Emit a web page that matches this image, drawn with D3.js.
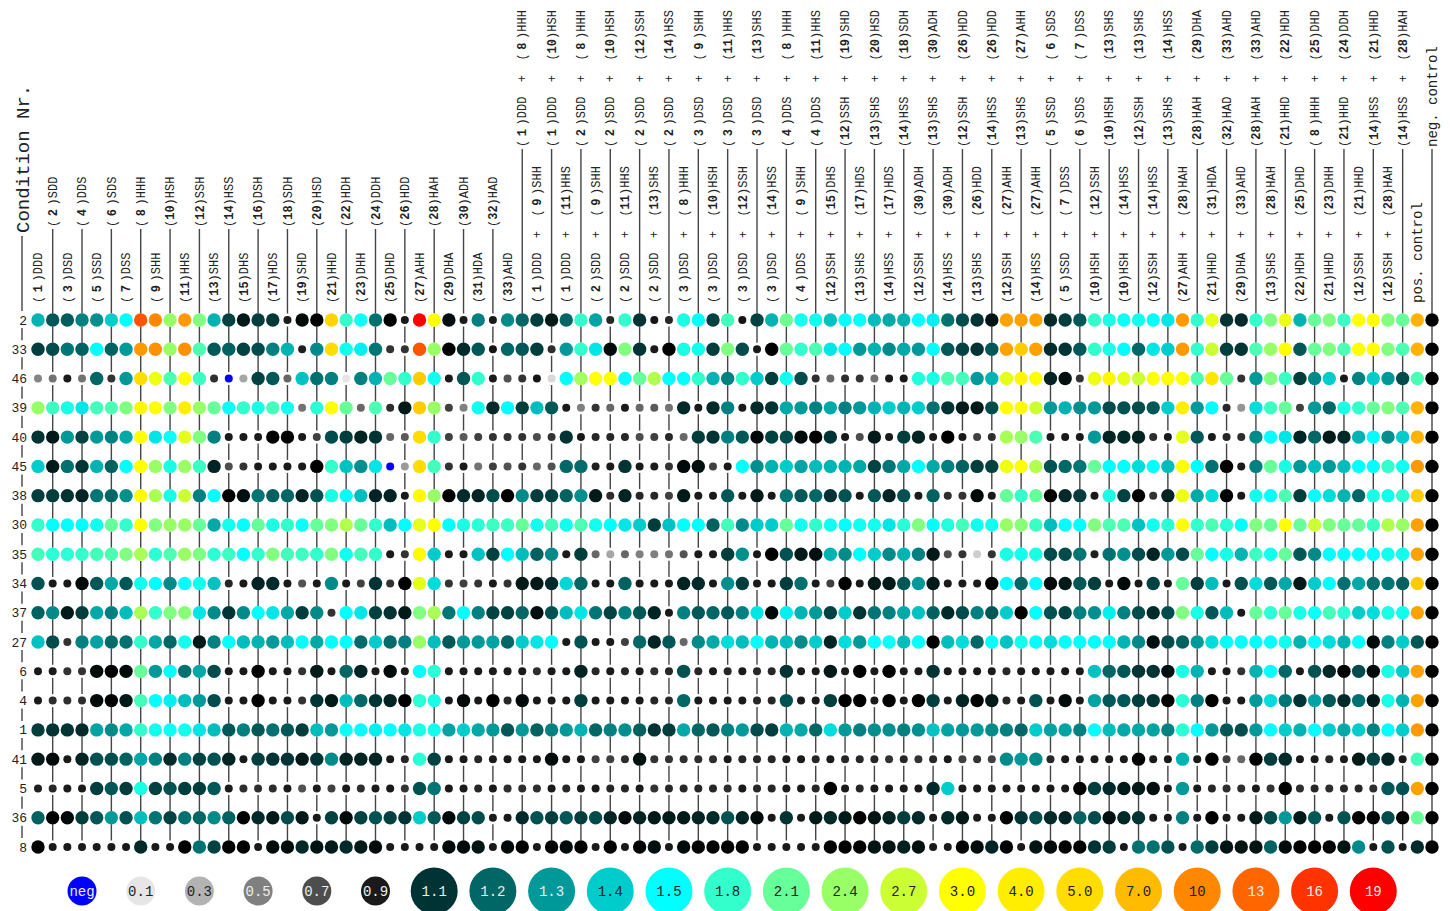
<!DOCTYPE html>
<html>
<head>
<meta charset="utf-8">
<script src="https://cdn.jsdelivr.net/npm/d3@7"></script>
<style>
  body { margin: 0; background: #fff; }
  text { font-family: "Liberation Mono", "DejaVu Sans Mono", monospace; fill: #222; }
</style>
</head>
<body>
<svg id="chart" width="1450" height="911"></svg>
<script>
// Single conditions, numbered 1..33 by position
const singles = ["DDD","SDD","DSD","DDS","SSD","SDS","DSS","HHH","SHH","HSH","HHS","SSH","SHS","HSS",
  "DHS","DSH","HDS","SDH","SHD","HSD","HHD","HDH","DHH","DDH","DHD","HDD","AHH","HAH","DHA","ADH","HDA","HAD","AHD"];

// Paired conditions (numbers refer to singles)
const combos = [[1,8],[1,9],[1,10],[1,11],[2,8],[2,9],[2,10],[2,11],[2,12],[2,13],[2,14],
  [3,8],[3,9],[3,10],[3,11],[3,12],[3,13],[3,14],[4,8],[4,9],[4,11],
  [12,15],[12,19],[13,17],[13,20],[14,17],[14,18],[12,30],[13,30],[14,30],
  [12,26],[13,26],[14,26],[12,27],[13,27],[14,27],[5,6],[5,7],[6,7],
  [10,12],[10,13],[10,14],[12,13],[12,14],[13,14],[27,28],[28,29],[21,31],[32,33],[29,33],[28,33],
  [13,28],[21,22],[22,25],[8,25],[21,23],[21,24],[12,21],[14,21],[12,28],[14,28]];

const controls = ["pos. control", "neg. control"];

// Condition Nr. (row order)
const rowLabels = ["2","33","46","39","40","45","38","30","35","34","37","27","6","4","1","41","5","36","8"];

// Values per condition row, one per column (0 = neg)
const r2 = [1.35,1.17,1.18,1.25,1.28,1.4,1.5,14,10,2.4,9,2.25,1.35,1.13,1.05,1.12,1.11,0.9,1.02,1.0,5.5,1.8,1.55,1.22,1.0,0.9,19,3.0,1.03,0.9,1.25,0.9,1.27,
  1.2,1.12,1.05,1.2,1.8,1.32,0.85,1.8,1.1,0.92,
  0.85,1.65,1.5,1.13,1.9,0.92,1.13,1.35,2.15,1.6,1.6,1.38,1.5,
  1.52,1.37,1.33,1.35,1.5,1.47,1.22,1.15,1.1,1.04,8.5,8.5,8.5,1.08,
  1.12,1.17,1.8,1.65,1.55,1.6,1.5,1.45,9,1.8,2.85,1.1,1.08,
  1.8,2.25,2.9,1.35,2.1,2.25,1.85,3.0,3.0,2.25,2.1,7.5,1.0];
const r33 = [1.12,1.15,1.23,1.19,1.5,1.19,1.3,9,9.5,2.4,9.5,1.95,1.17,1.19,1.13,1.15,1.25,1.35,0.88,1.27,5,1.6,1.47,1.23,0.8,0.8,14,2.4,1.0,1.08,1.17,0.92,1.2,
  1.17,1.12,0.82,1.3,1.8,1.45,1.02,2.25,1.1,0.9,
  1.0,1.65,1.6,1.12,2.25,1.15,0.9,1.0,2.1,1.8,1.95,1.45,1.5,
  1.3,1.35,1.27,1.33,1.3,1.5,1.17,1.13,1.1,1.17,8.5,6,8.5,1.08,
  1.1,1.17,1.8,1.65,1.5,1.2,1.45,1.4,9,1.8,2.7,1.12,1.1,
  1.95,2.4,3.0,1.17,2.1,2.25,1.95,3.0,3.0,2.25,1.95,7.5,1.0];
const r46 = [0.48,0.55,0.9,0.55,1.2,0.8,1.3,5,2.9,1.95,3.0,1.85,0.82,0,0.35,1.13,1.17,0.6,1.38,1.22,1.25,0.1,1.25,1.35,2.1,1.8,6,1.6,0.9,1.17,1.8,0.9,0.68,
  0.8,0.92,0.15,1.5,2.45,3.0,3.0,1.5,2.1,2.55,
  1.5,1.5,1.8,1.35,1.25,1.8,1.4,1.12,1.6,1.15,0.82,0.6,0.82,
  0.8,0.55,0.9,0.9,1.7,1.65,1.95,1.9,1.3,1.35,2.85,3.5,3.0,1.07,
  1.03,0.8,2.9,3.5,2.85,2.7,3.0,3.0,3.0,1.95,4.5,2.1,0.8,
  1.3,2.25,1.85,1.12,1.27,1.4,0.9,1.25,1.4,1.3,1.15,1.95,1.0];
const r39 = [2.4,1.85,1.65,1.45,1.9,1.95,2.25,3.5,3.0,2.25,4,2.4,2.1,1.55,1.8,1.65,1.9,1.6,0.55,1.75,3.0,2.1,0.6,1.95,0.82,1.05,6,2.4,0.75,0.5,1.6,1.08,1.5,
  1.12,1.37,1.17,0.9,0.5,0.8,0.6,0.9,0.6,0.65,
  0.55,1.08,0.9,1.08,1.25,0.9,1.08,1.1,1.33,1.3,1.25,1.33,1.25,
  1.3,1.35,1.4,1.35,1.4,1.22,1.1,1.05,1.05,1.15,3.0,3.2,2.7,1.3,
  1.35,1.28,1.3,1.15,1.16,1.15,1.17,1.4,4,1.3,1.5,0.85,0.42,
  1.43,1.85,2.1,0.75,1.3,1.2,1.65,1.8,2.1,2.25,1.95,7.5,1.0];
const r40 = [1.1,1.05,1.3,1.13,1.3,1.25,1.33,3.0,1.45,1.55,2.85,2.25,1.25,0.9,0.9,0.9,1.0,1.0,0.9,0.75,1.15,1.12,1.07,1.1,0.6,0.65,5,1.8,0.75,0.65,0.75,0.8,0.8,
  0.8,0.7,0.8,1.1,0.9,0.85,0.85,0.85,0.7,0.75,
  0.85,0.6,1.12,1.1,1.25,1.17,1.02,1.13,1.15,1.02,1.0,1.1,0.9,
  0.7,1.05,0.9,1.12,1.07,0.9,1.0,0.9,0.75,0.82,2.5,2.4,1.95,0.9,
  0.9,0.9,1.3,1.07,1.08,1.07,0.82,0.9,2.85,1.17,0.9,0.85,0.82,
  1.27,1.5,1.45,1.07,1.2,1.05,1.08,1.35,1.5,1.28,1.4,7.5,1.0];
const r45 = [1.4,1.05,1.22,1.1,1.35,1.19,1.5,3.0,2.4,1.65,2.4,1.85,1.07,0.7,0.8,0.9,0.9,0.9,0.9,1.0,1.8,1.38,1.28,1.45,0,0.4,5,1.9,0.8,0.9,0.55,0.75,0.68,
  0.8,0.6,0.68,1.2,1.21,0.88,0.9,1.1,0.9,0.9,
  0.8,1.02,1.03,0.75,0.9,1.5,1.28,1.35,1.4,1.32,1.37,1.35,1.35,
  1.33,1.13,1.23,1.33,1.5,1.33,1.25,1.19,1.12,1.13,2.9,3.0,2.55,1.16,
  1.2,1.23,2.1,1.5,1.5,1.43,1.5,1.37,3.0,1.5,1.22,1.0,0.9,
  1.25,2.1,1.65,1.3,1.37,1.3,1.37,1.5,1.5,1.8,1.6,9,1.0];
const r38 = [1.12,1.12,1.1,1.07,1.23,1.2,1.28,3.2,2.5,1.65,2.7,1.25,1.5,1.0,1.03,1.23,1.19,1.2,1.07,1.16,1.65,1.5,1.37,1.07,1.07,0.9,3.3,2.4,1.0,1.08,1.07,1.15,1.0,
  1.27,1.12,1.13,1.19,1.28,1.05,0.82,1.07,0.85,0.85,
  0.75,1.05,0.9,0.9,1.17,0.9,1.05,0.9,1.23,1.17,1.2,1.1,1.16,
  0.9,1.17,1.07,1.16,0.9,1.19,0.82,0.8,1.02,0.9,2.1,1.8,2.1,1.0,
  1.08,1.12,0.9,1.65,1.13,1.0,0.8,1.07,2.9,1.33,1.43,1.0,0.9,
  1.6,1.5,1.95,1.12,1.5,1.43,1.35,1.2,1.65,1.6,1.75,6,1.0];
const r30 = [1.8,1.5,1.5,1.5,1.6,2.1,1.8,3.0,2.25,2.4,2.4,2.1,1.33,1.6,1.5,2.1,1.65,1.8,1.55,2.1,2.25,2.55,2.1,1.8,1.37,1.5,2.85,3.0,1.5,1.65,1.75,1.85,1.85,
  2.1,1.6,1.9,1.6,1.95,1.6,1.5,1.45,1.4,1.12,
  1.38,1.5,1.5,1.19,1.9,1.27,1.4,1.4,2.1,1.6,1.8,1.6,1.5,
  1.6,1.6,1.45,1.75,2.25,1.5,1.7,1.9,1.6,1.6,2.4,2.3,1.85,1.37,
  1.5,1.5,2.25,1.95,1.95,1.38,1.6,1.75,3.0,1.8,1.95,1.75,1.5,
  2.25,2.1,3.0,2.1,2.7,2.25,2.1,2.1,1.85,2.55,2.4,8.5,1.0];
const r35 = [1.9,1.75,1.75,1.8,1.9,1.95,2.25,2.5,1.75,1.95,2.4,2.25,1.75,1.85,1.5,1.8,2.25,1.9,1.85,1.8,2.25,1.6,1.9,1.8,0.9,0.8,3.3,1.4,0.9,0.9,1.38,1.13,1.5,
  1.37,1.19,1.27,0.9,1.12,0.6,0.35,0.6,0.5,0.5,
  0.55,0.68,0.9,0.9,1.12,1.28,0.9,1.0,1.16,1.05,1.03,1.35,1.27,
  1.5,1.4,1.27,1.35,1.25,1.05,0.7,0.8,0.2,0.8,1.65,1.6,1.65,1.15,
  1.15,1.23,0.88,1.22,1.28,1.15,1.07,1.3,1.15,2.1,1.5,1.65,1.35,
  1.85,1.6,2.1,1.17,1.27,1.5,1.5,1.5,1.5,1.6,1.6,8.5,1.0];
const r34 = [1.16,0.9,0.9,1.02,1.17,1.33,1.17,1.6,1.5,1.27,1.5,1.6,1.38,0.85,0.9,1.07,1.08,0.9,0.68,0.9,1.27,0.9,0.75,1.1,0.8,1.0,2.85,1.43,0.8,0.75,0.8,0.9,0.8,
  1.05,1.05,1.08,1.42,1.2,0.9,0.9,1.19,0.9,0.9,
  0.9,1.07,1.08,0.9,1.28,1.12,0.9,0.9,1.12,1.22,0.9,0.75,1.0,
  0.9,1.05,1.05,1.17,1.3,1.05,0.9,0.9,0.9,1.0,1.5,1.2,1.5,1.02,
  1.05,1.17,1.12,0.9,1.02,0.9,1.13,0.9,2.1,1.12,1.37,0.9,1.16,
  1.43,1.17,1.33,1.05,1.4,1.5,1.22,1.33,1.22,1.23,1.19,6,1.0];
const r37 = [1.19,1.27,1.05,1.12,1.33,1.25,1.37,2.5,1.8,2.25,2.3,1.45,1.27,1.1,1.27,1.5,1.45,1.33,1.12,1.27,0.8,1.5,1.45,1.13,1.1,1.05,2.25,2.5,1.23,1.5,1.25,1.13,1.13,
  1.2,1.03,1.16,1.37,1.45,1.23,1.13,1.25,1.17,1.07,
  0.9,1.25,1.17,1.2,1.17,1.25,1.45,1.02,1.47,1.35,1.3,1.13,1.4,
  1.1,1.23,1.25,1.33,1.38,1.19,1.08,1.15,1.25,1.17,1.4,1.0,1.5,1.16,
  1.13,1.25,1.28,1.47,1.25,1.15,1.08,1.15,2.25,1.65,1.17,1.37,0.9,
  2.1,1.75,2.1,1.65,1.55,1.9,1.75,1.4,1.43,1.65,1.6,8.5,1.0];
const r27 = [1.38,1.15,0.8,1.25,1.32,1.21,1.22,1.8,1.33,1.2,1.6,1.05,1.25,1.5,1.37,1.35,1.3,1.37,1.5,1.33,1.5,1.5,1.21,1.4,1.21,1.25,2.4,1.37,1.17,1.3,1.3,1.32,1.2,
  1.4,1.45,1.5,0.9,1.16,0.9,0.9,0.75,1.2,1.07,
  1.17,0.6,1.27,1.33,1.43,1.37,1.5,1.35,1.37,1.27,1.4,1.07,1.43,
  1.3,1.5,1.55,1.37,1.5,1.0,1.37,1.43,1.2,1.5,1.38,1.6,1.5,1.43,
  1.5,1.5,1.5,1.5,1.35,1.27,1.03,1.15,1.19,1.3,1.43,1.5,1.5,
  1.5,1.5,1.6,1.35,1.5,1.43,1.35,1.5,1.02,1.25,1.4,1.17,1.0];
const r6 = [0.9,0.9,0.8,0.8,1.02,1.0,1.02,2.1,1.3,1.5,1.22,1.33,1.15,0.9,0.9,1.0,0.9,0.9,0.8,1.05,0.9,1.2,1.07,0.9,1.02,0.9,1.5,1.75,0.9,0.9,0.9,0.9,0.9,
  0.9,0.82,0.9,0.9,1.07,0.85,0.9,0.85,0.9,0.82,
  0.85,1.16,0.85,0.9,0.85,0.9,0.85,0.85,1.1,0.9,0.9,1.05,0.9,
  1.0,0.9,1.0,0.9,0.9,1.1,0.9,0.9,0.9,0.9,0.85,0.9,0.9,0.9,
  0.9,0.9,1.38,1.2,1.17,1.1,1.1,1.03,1.65,1.35,0.9,0.9,0.8,
  1.35,1.5,1.2,0.9,1.16,1.08,1.0,1.15,1.02,1.65,1.4,8.5,1.0];
const r4 = [0.9,0.82,0.82,0.82,1.02,1.0,1.05,1.9,1.5,1.47,1.37,1.3,1.15,0.9,0.9,1.0,0.9,0.9,0.8,1.1,1.05,1.37,1.2,1.1,1.07,1.0,1.75,1.65,0.9,1.02,0.9,1.0,0.85,
  1.02,0.9,0.9,0.9,1.12,0.9,0.9,0.9,0.9,0.85,
  0.85,1.2,0.9,0.9,0.9,0.9,0.85,0.85,1.16,0.9,0.9,1.12,1.0,
  1.0,0.9,1.0,0.9,1.0,1.12,0.9,1.07,1.0,1.05,0.85,0.9,1.16,0.9,
  1.02,0.9,1.32,1.17,1.17,1.12,1.1,1.0,1.75,1.25,1.0,0.9,0.9,
  1.3,1.43,1.23,1.1,1.32,1.17,1.08,1.22,1.05,1.65,1.35,8.5,1.0];
const r1 = [1.12,1.1,1.1,1.08,1.32,1.27,1.33,1.8,1.6,1.55,1.6,1.45,1.37,1.17,1.25,1.17,1.22,1.17,1.12,1.37,1.3,1.55,1.5,1.47,1.5,1.45,1.65,1.6,1.32,1.4,1.33,1.3,1.17,
  1.3,1.19,1.25,1.3,1.35,1.2,1.25,1.28,1.19,1.1,
  1.12,1.33,1.2,1.17,1.25,1.3,1.15,1.12,1.35,1.33,1.2,1.43,1.3,
  1.25,1.28,1.28,1.25,1.28,1.38,1.32,1.3,1.3,1.27,1.25,1.2,1.4,1.32,
  1.32,1.25,1.5,1.37,1.33,1.33,1.32,1.25,1.75,1.5,1.3,1.17,1.15,
  1.3,1.5,1.4,1.35,1.5,1.4,1.33,1.4,1.25,1.5,1.4,9,1.0];
const r41 = [1.05,1.02,0.9,1.07,1.16,1.15,1.19,1.33,1.25,1.08,1.25,1.13,1.16,1.07,0.9,1.12,1.1,1.1,1.05,1.1,1.27,1.07,1.07,1.07,0.9,0.85,1.75,1.13,0.9,0.9,0.85,0.9,0.9,
  0.9,0.9,1.02,0.9,0.9,0.75,0.75,0.82,1.03,0.8,
  0.8,0.82,0.82,0.82,0.9,0.85,0.85,0.85,0.9,0.9,0.85,0.9,0.85,
  0.85,0.85,0.8,0.85,0.8,0.85,0.9,0.75,0.8,0.75,1.27,1.3,1.27,0.85,
  0.9,0.9,0.9,0.9,0.9,1.0,0.9,0.9,1.35,0.9,1.0,0.75,0.6,
  1.0,1.12,1.08,0.9,0.9,0.85,0.9,1.05,1.13,1.07,0.9,1.9,1.0];
const r5 = [0.88,0.85,0.9,0.9,1.12,1.17,1.12,1.65,1.13,1.16,1.12,1.12,1.17,0.9,0.82,0.82,0.82,0.9,0.68,0.9,0.75,0.9,0.82,0.9,0.9,0.8,1.16,1.23,0.9,0.9,0.85,0.9,0.82,
  0.82,0.82,0.9,0.85,0.9,0.9,0.85,0.85,0.9,0.8,
  0.85,0.85,0.85,0.85,0.82,0.9,0.85,0.85,0.9,0.9,0.85,1.0,0.9,
  0.85,0.9,0.9,0.9,0.9,1.08,1.4,0.9,0.9,0.9,0.9,0.9,0.9,0.9,
  0.9,1.0,1.12,1.08,1.05,1.05,1.03,0.9,1.3,0.9,0.85,0.82,0.82,
  0.9,0.8,1.0,0.82,0.85,0.82,0.85,0.85,0.82,1.17,1.16,8.5,1.0];
const r36 = [1.19,1.0,1.02,1.12,1.17,1.3,1.16,1.37,1.23,1.13,1.22,1.2,1.27,1.19,1.0,1.08,1.05,1.15,1.05,0.9,1.13,1.02,1.13,1.16,1.13,1.1,1.4,1.17,1.02,1.13,1.15,0.9,0.9,
  1.08,1.16,1.12,1.17,1.12,1.15,1.07,1.02,1.07,1.05,
  1.05,1.05,1.07,1.08,1.16,1.07,1.02,0.9,1.1,0.9,1.05,1.08,1.05,
  1.0,1.04,1.07,1.12,1.08,0.9,1.08,1.05,0.9,0.9,1.0,1.1,1.15,1.08,
  1.07,1.19,1.15,1.03,1.08,1.1,0.9,0.9,1.25,0.9,1.0,0.9,0.9,
  1.05,1.15,1.3,1.05,1.17,0.9,1.16,1.0,1.0,1.15,1.0,2.1,1.0];
const r8 = [1.0,0.9,0.9,0.9,0.9,0.9,0.9,1.08,0.9,0.9,1.0,1.22,1.13,1.0,1.0,0.9,1.02,1.02,1.08,1.04,1.05,1.08,1.05,1.02,0.9,0.9,0.9,0.9,1.02,1.02,1.04,0.9,1.02,
  1.0,0.9,1.0,1.02,1.0,0.9,1.0,0.9,1.0,1.03,
  0.9,1.02,1.0,1.0,1.0,1.0,0.9,0.9,0.9,0.9,0.9,1.0,1.0,
  1.0,1.04,1.04,1.06,1.03,0.9,0.9,1.0,1.02,1.07,1.0,0.9,1.04,1.02,
  1.0,1.0,1.1,1.12,0.9,1.22,1.22,1.16,0.9,1.21,1.12,1.04,1.04,
  1.04,1.19,1.02,1.0,1.0,1.0,1.04,1.27,0.9,1.16,0.9,1.08,1.0];

const rowValues = [r2, r33, r46, r39, r40, r45, r38, r30, r35, r34, r37, r27, r6, r4, r1, r41, r5, r36, r8];

// Legend entries
const legendValues = [0, 0.1, 0.3, 0.5, 0.7, 0.9, 1.1, 1.2, 1.3, 1.4, 1.5, 1.8, 2.1, 2.4, 2.7, 3.0, 4.0, 5.0, 7.0, 10, 13, 16, 19];
const legendLabels = ["neg","0.1","0.3","0.5","0.7","0.9","1.1","1.2","1.3","1.4","1.5","1.8","2.1","2.4","2.7","3.0","4.0","5.0","7.0","10","13","16","19"];

// Colour ramp: grey below 1, teal/cyan/green/yellow/red above
const colorStops = [0, 0.1, 0.3, 0.5, 0.7, 0.9, 1.0, 1.1, 1.2, 1.3, 1.4, 1.5, 1.8, 2.1, 2.4, 2.7, 3.0, 4.0, 5.0, 7.0, 10, 13, 16, 19];
const colorRange = ["#0000ff","#e6e6e6","#b3b3b3","#808080","#4d4d4d","#1a1a1a","#000000","#003333","#006666","#009999",
  "#00cccc","#00ffff","#33ffcc","#66ff99","#99ff66","#ccff33","#ffff00","#ffee00","#ffdd00","#ffbb00","#ff8800","#ff6600","#ff3300","#ff0000"];

// ---- build columns ----
const columns = [
  ...singles.map((c, i) => ({ parts: [[i + 1, c]] })),
  ...combos.map(([a, b]) => ({ parts: [[a, singles[a - 1]], [b, singles[b - 1]]] })),
  ...controls.map(t => ({ text: t }))
];
const nSingle = singles.length;

const svg = d3.select("#chart");

const x = d3.scalePoint().domain(d3.range(columns.length)).range([38, 1432]);
const y = d3.scalePoint().domain(rowLabels).range([320, 847]);
const color = d3.scaleLinear().domain(colorStops).range(colorRange).interpolate(d3.interpolateRgb).clamp(true);
const dotR = d3.scaleThreshold().domain([1]).range([4, 6.7]);
const keyR = d3.scaleThreshold().domain([1]).range([14.5, 23.5]);

const lowerBase = 303;
const upperBase = i => (i < nSingle ? 227 : 147);
const isUpper = i => i % 2 === 1;
const labelBase = i => (isUpper(i) ? upperBase(i) : lowerBase);

const firstRow = y(rowLabels[0]);
const gap = 6.5;

// ---- vertical guide lines (upper-labelled columns) ----
const guides = svg.append("g").attr("stroke", "#444").attr("stroke-width", 1.4);
columns.forEach((col, i) => {
  if (!isUpper(i)) return;
  const segs = [[labelBase(i) + 2, firstRow - gap]];
  for (let r = 0; r < rowLabels.length - 1; r++) {
    segs.push([y(rowLabels[r]) + gap, y(rowLabels[r + 1]) - gap]);
  }
  segs.forEach(([a, b]) => guides.append("line")
    .attr("x1", x(i)).attr("x2", x(i)).attr("y1", a).attr("y2", b));
});

// ---- row axis ----
const axisX = 22;
guides.append("line").attr("x1", axisX).attr("x2", axisX).attr("y1", 236).attr("y2", firstRow - 9);
for (let r = 0; r < rowLabels.length - 1; r++) {
  guides.append("line").attr("x1", axisX).attr("x2", axisX)
    .attr("y1", y(rowLabels[r]) + 8).attr("y2", y(rowLabels[r + 1]) - 9);
}

svg.append("text")
  .attr("transform", `translate(${axisX},233) rotate(-90)`)
  .attr("dy", "0.35em")
  .style("font-size", "19px")
  .text("Condition Nr.");

svg.append("g").selectAll("text").data(rowLabels).join("text")
  .attr("x", 27).attr("y", d => y(d)).attr("dy", "0.35em")
  .attr("text-anchor", "end")
  .style("font-size", "13px")
  .text(d => d);

// ---- column labels ----
const labels = svg.append("g").selectAll("text").data(columns).join("text")
  .attr("transform", (d, i) => `translate(${x(i)},${labelBase(i)}) rotate(-90)`)
  .attr("dy", "0.35em")
  .style("white-space", "pre")
  .style("font-size", d => (d.text ? "14px" : "12px"));

labels.each(function (d) {
  const t = d3.select(this);
  if (d.text) { t.text(d.text); return; }
  d.parts.forEach(([n, code], k) => {
    if (k > 0) t.append("tspan").text("  +  ");
    const pad = n < 10 ? "0.3em" : null;
    t.append("tspan").text("(");
    t.append("tspan").attr("dx", pad).style("font-weight", "bold").text(n);
    t.append("tspan").attr("dx", pad).text(")");
    t.append("tspan").text(code);
  });
});

// ---- dots ----
const cells = [];
rowValues.forEach((vals, r) => vals.forEach((v, c) => cells.push({ row: rowLabels[r], col: c, v })));

svg.append("g").selectAll("circle").data(cells).join("circle")
  .attr("cx", d => x(d.col))
  .attr("cy", d => y(d.row))
  .attr("r", d => dotR(d.v))
  .attr("fill", d => color(d.v));

// ---- legend ----
const keyY = 891;
const key = svg.append("g").selectAll("g").data(legendValues).join("g")
  .attr("transform", (d, k) => `translate(${x(3 + 4 * k)},${keyY})`);
key.append("circle").attr("r", d => keyR(d)).attr("fill", d => color(d));
key.append("text")
  .attr("text-anchor", "middle").attr("dy", "0.35em")
  .style("font-size", "14px")
  .style("fill", d => (d3.lab(color(d)).l > 65 ? "#222" : "#eee"))
  .text((d, k) => legendLabels[k]);
</script>
</body>
</html>
